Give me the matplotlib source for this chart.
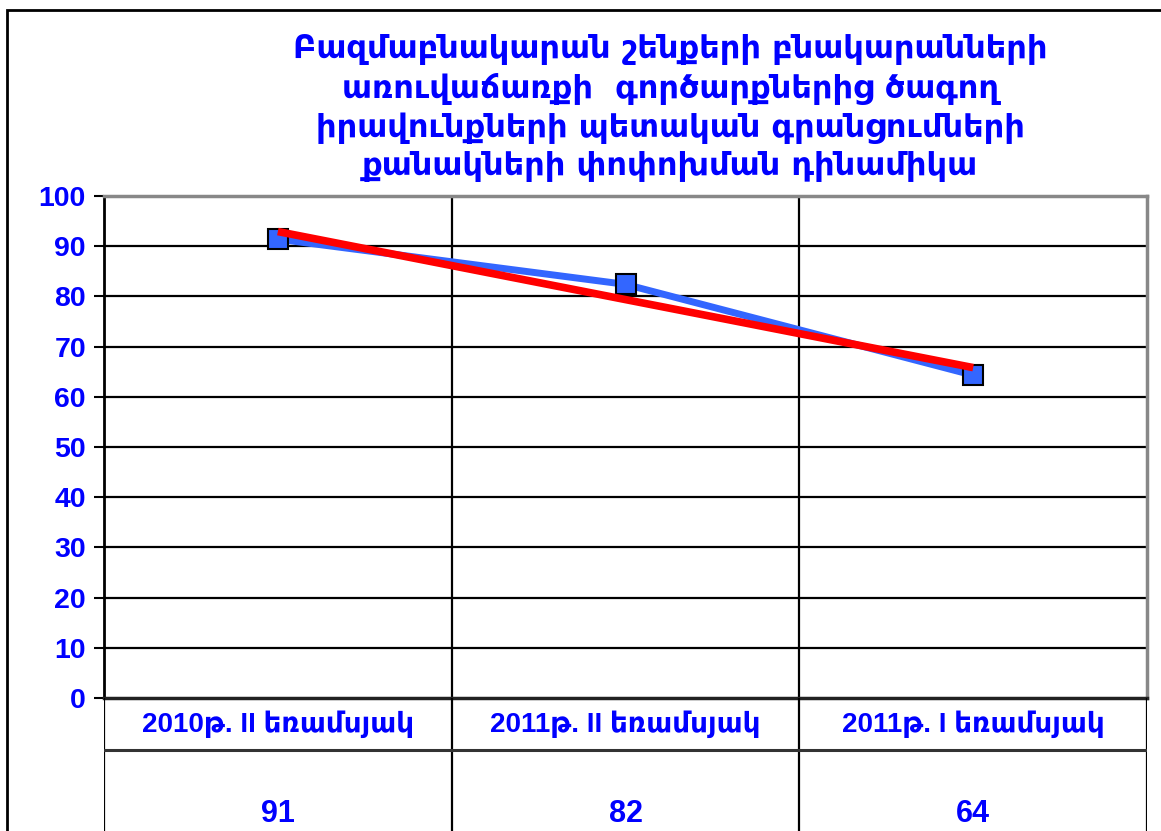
import matplotlib.pyplot as plt
import numpy as np
from matplotlib.patches import Rectangle

plt.rcParams['font.family'] = ['Liberation Sans', 'DejaVu Sans']

title = ('Բազմաբնակարան շենքերի բնակարանների\n'
         'առուվաճառքի  գործարքներից ծագող\n'
         'իրավունքների պետական գրանցումների\n'
         'քանակների փոփոխման դինամիկա')
categories = ['2010թ. II եռամսյակ', '2011թ. II եռամսյակ', '2011թ. I եռամսյակ']
values = [91.4, 82.4, 64.3]
table_labels = ['91', '82', '64']
yticks = list(range(0, 101, 10))

blue = '#0000FF'
W, H = 1161, 831
fig = plt.figure(figsize=(W / 100, H / 100), dpi=100)


def box(x0, y0, x1, y1):
    # pixel box (top-left origin) -> figure fraction [l, b, w, h]
    return [x0 / W, 1 - y1 / H, (x1 - x0) / W, (y1 - y0) / H]


# outer chart frame (cut off on right and bottom)
fig.patches.append(Rectangle((7 / W, -0.1), 1.2, 1 - 10 / H + 0.1,
                             transform=fig.transFigure, fill=False,
                             edgecolor='black', lw=2))

fig.text(670 / W, 1 - 108 / H, title, ha='center', va='center', color=blue,
         fontsize=23, fontweight='bold', linespacing=1.3,
         family=['DejaVu Sans'])

ax = fig.add_axes(box(104, 196, 1147, 698))
x = np.arange(len(categories))
ax.set_xlim(-0.5, len(categories) - 0.5)
ax.set_ylim(0, 100)

# gridlines
for t in yticks[1:-1]:
    ax.axhline(t, color='black', lw=1.6, zorder=1)
for b in x[:-1] + 0.5:
    ax.axvline(b, color='black', lw=1.6, zorder=1)

ax.plot(x, values, color='#3366FF', lw=5, marker='s', markersize=15,
        markerfacecolor='#3366FF', markeredgecolor='black',
        markeredgewidth=1.5, zorder=3, clip_on=False)

# linear trend line
k, c = np.polyfit(x, values, 1)
ax.plot(x, k * x + c, color='#FF0000', lw=5.5, zorder=4,
        solid_capstyle='butt')

ax.set_yticks(yticks)
ax.set_yticklabels([str(t) for t in yticks], color=blue, fontsize=20.5,
                   fontweight='bold')
ax.tick_params(axis='y', length=7, width=1.5, pad=6)
ax.set_xticks([])
ax.spines['left'].set_color('black')
ax.spines['left'].set_linewidth(2)
ax.spines['bottom'].set_color('#222222')
ax.spines['bottom'].set_linewidth(2.5)
ax.spines['top'].set_color('#888888')
ax.spines['top'].set_linewidth(2.5)
ax.spines['right'].set_color('#888888')
ax.spines['right'].set_linewidth(2.5)

# data table below the plot
tab = fig.add_axes(box(104, 698, 1147, 870))
tab.set_xlim(-0.5, len(categories) - 0.5)
tab.set_ylim(172, 0)
tab.axis('off')
for b in np.arange(len(categories) + 1) - 0.5:
    tab.axvline(b, color='black', lw=1.6)
tab.axhline(52, color='#333333', lw=2.2)
for i, (cat, lab) in enumerate(zip(categories, table_labels)):
    tab.text(i, 26, cat, ha='center', va='center', color=blue,
             fontsize=20, fontweight='bold')
    tab.text(i, 131, lab, ha='center', va='bottom', color=blue,
             fontsize=22, fontweight='bold')

fig.savefig('out.png', dpi=100)
